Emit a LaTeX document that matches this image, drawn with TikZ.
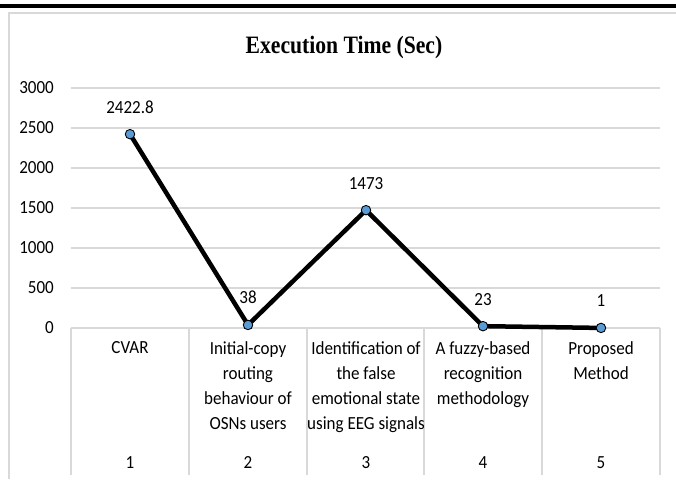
\documentclass[tikz,border=0pt]{standalone}
\usepackage{fontspec}
\setmainfont[FakeStretch=0.92]{Carlito}
\newfontfamily\titlefont[FakeStretch=0.865]{Liberation Serif}
\definecolor{gridgray}{HTML}{D9D9D9}
\definecolor{markblue}{HTML}{5B9BD5}
\begin{document}
\begin{tikzpicture}[x=1pt,y=-1pt,
  grid/.style={draw=gridgray,line width=1.5pt},
  ylab/.style={anchor=east,font=\fontsize{18.5}{20}\selectfont,inner sep=0pt},
  catlab/.style={anchor=north,align=center,font=\fontsize{18.5}{25}\selectfont,inner sep=0pt},
  numlab/.style={anchor=base,font=\fontsize{18.5}{20}\selectfont,inner sep=0pt},
  vallab/.style={anchor=base,font=\fontsize{18.5}{20}\selectfont,inner sep=0pt},
  dotmark/.style={circle,draw=black,fill=markblue,line width=0.9pt,minimum size=9.5pt,inner sep=0pt},
  series/.style={line width=4.5pt,line join=round,line cap=round}]
\useasboundingbox (0,0) rectangle (676,479);
% top black bar and chart frame
\fill[black] (0,3.5) rectangle (676,7.5);
\draw[gridgray,line width=2pt] (9,479) -- (9,13) -- (676,13);
% title
\node[font=\titlefont\bfseries\fontsize{25}{27}\selectfont,inner sep=0pt] (title) at (344,47) {Execution Time (Sec)};
% gridlines and y labels
\foreach \v/\yy in {3000/88,2500/128,2000/168,1500/208,1000/248,500/288}{
  \draw[grid] (71,\yy) -- (660,\yy);
  \node[ylab] (y\v) at (54,\yy) {\v};
}
\node[ylab] (y0) at (54,328) {0};
\draw[grid] (71,328) -- (660,328);
% table vertical lines
\foreach \xx in {71,189,307,424,542,660}{
  \draw[grid] (\xx,328) -- (\xx,475);
}
% category labels
\node[catlab] (c1) at (130,341) {CVAR};
\node[catlab] (c2) at (248,341) {Initial-copy\\routing\\behaviour of\\OSNs users};
\node[catlab] (c3) at (366,341) {Identification of\\the false\\emotional state\\using EEG signals};
\node[catlab] (c4) at (483,341) {A fuzzy-based\\recognition\\methodology};
\node[catlab] (c5) at (601,341) {Proposed\\Method};
\foreach \i/\xx in {1/130,2/248,3/366,4/483,5/601}{
  \node[numlab] (n\i) at (\xx,468) {\i};
}
% data points
\coordinate (p1) at (130,{328-2422.8*0.08});
\coordinate (p2) at (248,{328-38*0.08});
\coordinate (p3) at (366,{328-1473*0.08});
\coordinate (p4) at (483,{328-23*0.08});
\coordinate (p5) at (601,{328-1*0.08});
\draw[series] (p1) -- (p2) -- (p3) -- (p4) -- (p5);
\foreach \i in {1,...,5}{ \node[dotmark] (m\i) at (p\i) {}; }
\node[vallab] (v1) at ([yshift=21pt]p1) {2422.8};
\node[vallab] (v2) at ([yshift=21pt]p2) {38};
\node[vallab] (v3) at ([yshift=21pt]p3) {1473};
\node[vallab] (v4) at ([yshift=21pt]p4) {23};
\node[vallab] (v5) at ([yshift=21pt]p5) {1};
\end{tikzpicture}
\end{document}
